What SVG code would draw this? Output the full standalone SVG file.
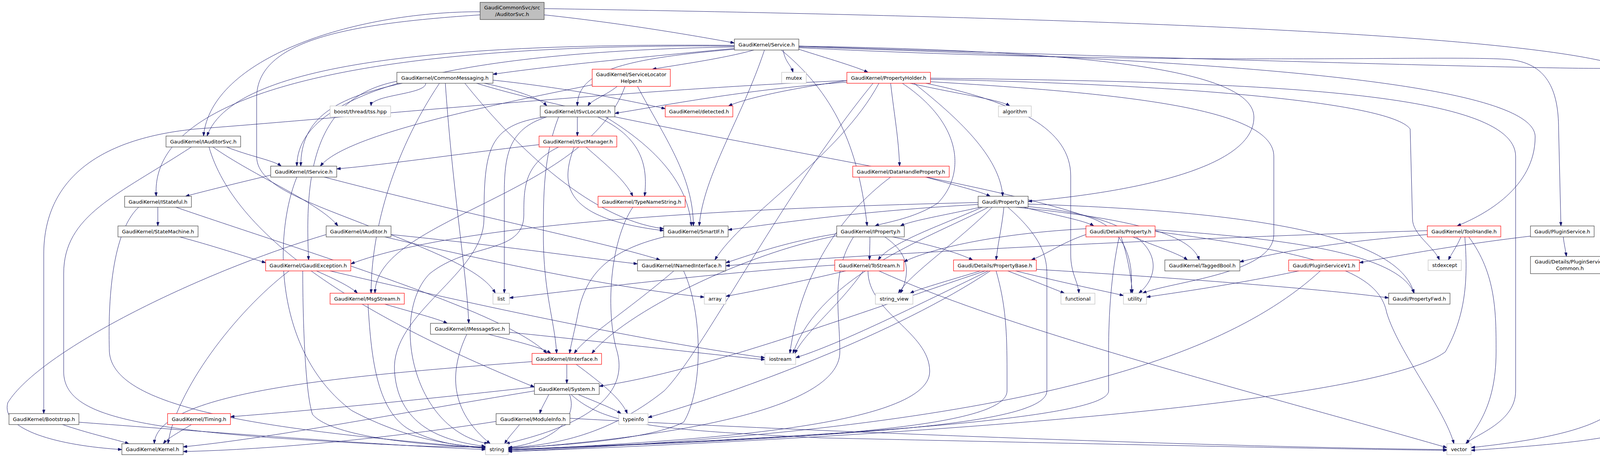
<svg xmlns="http://www.w3.org/2000/svg" width="4214" height="1169" viewBox="0 0 4214 1169">
<style>
.n rect{fill:#fff;stroke:#404040;stroke-width:1.2}
.r rect{fill:#fff;stroke:#ff0000;stroke-width:1.2}
.g rect{fill:#fff;stroke:#bfbfbf;stroke-width:1.2}
.root rect{fill:#bfbfbf;stroke:#404040;stroke-width:1.2}
text{font-family:"DejaVu Sans","Liberation Sans",sans-serif;font-size:13px;fill:#000;text-anchor:middle}
.e{fill:none;stroke:#191970;stroke-width:1;marker-end:url(#ah)}
</style>
<defs>
<marker id="ah" viewBox="0 0 10 7" refX="10" refY="3.5" markerWidth="10" markerHeight="7" markerUnits="userSpaceOnUse" orient="auto"><path d="M0,0 L10,3.5 L0,7 z" fill="#191970" stroke="#191970"/></marker>
</defs>
<rect width="4214" height="1169" fill="#fff"/>
<g id="edges">
<path class="e" d="M1229,30 C900,30 540,150 521,348"/>
<path class="e" d="M1393,38 C1600,60 1800,95 1880,110"/>
<path class="e" d="M1229,38 C900,60 657,100 657,250 L657,400 C657,480 800,520 1000,600 C1150,660 1240,700 1268,750"/>
<path class="e" d="M1393,22 C2500,40 4150,80 4205,200 L4205,1080 C4205,1120 3950,1140 3766,1152"/>
<path class="e" d="M1880,124 C1600,150 1400,170 1262,190"/>
<path class="e" d="M1930,128 C1850,150 1740,165 1670,177"/>
<path class="e" d="M2005,128 C2010,160 2025,165 2030,185"/>
<path class="e" d="M2045,126 C2120,150 2190,170 2222,185"/>
<path class="e" d="M1880,126 C1600,150 1478,180 1478,271"/>
<path class="e" d="M1880,116 C1200,110 600,150 530,348"/>
<path class="e" d="M1880,120 C1300,130 760,200 760,425"/>
<path class="e" d="M1880,118 C1000,110 380,220 400,502"/>
<path class="e" d="M1957,128 C1900,300 1800,450 1790,578"/>
<path class="e" d="M2045,118 C2800,130 3210,180 3210,300 C3210,450 2800,500 2632,515"/>
<path class="e" d="M2000,128 C2150,250 2200,400 2220,578"/>
<path class="e" d="M2045,120 C3000,150 3930,200 3930,350 C3930,480 3800,550 3730,578"/>
<path class="e" d="M2045,122 C3000,170 3700,140 3860,152 C3960,160 3990,230 3990,330 L3996,578"/>
<path class="e" d="M2045,118 C3000,150 3900,175 4100,175 C4150,180 4157,250 4157,330 L4157,1000 C4157,1100 3900,1130 3766,1145"/>
<path class="e" d="M1090,213 C1090,242 950,242 950,271"/>
<path class="e" d="M1240,213 C1320,230 1380,250 1400,271"/>
<path class="e" d="M1262,205 C1450,225 1600,255 1703,278"/>
<path class="e" d="M1030,213 C860,250 770,300 770,425"/>
<path class="e" d="M1016,208 C800,250 780,450 790,665"/>
<path class="e" d="M1125,213 C1000,400 950,600 950,750"/>
<path class="e" d="M1140,213 C1160,500 1195,700 1200,827"/>
<path class="e" d="M1190,213 C1300,350 1500,560 1699,585"/>
<path class="e" d="M1220,213 C1600,330 2500,450 2800,560 C2900,600 2900,700 2895,750"/>
<path class="e" d="M1580,221 C1550,245 1515,255 1505,271"/>
<path class="e" d="M1516,217 C1200,280 880,350 820,425"/>
<path class="e" d="M1632,221 C1700,350 1775,450 1775,578"/>
<path class="e" d="M1600,221 C1500,500 960,560 960,750"/>
<path class="e" d="M2330,213 C2450,240 2560,255 2585,271"/>
<path class="e" d="M2370,213 C2600,260 2741,330 2741,450 L2741,650 C2741,700 2760,720 2762,750"/>
<path class="e" d="M2382,203 C3000,215 3560,260 3610,330 L3616,560 C3616,600 3670,630 3685,665"/>
<path class="e" d="M2382,209 C2900,240 3261,280 3261,400 L3261,600 C3261,700 3000,720 2925,750"/>
<path class="e" d="M2382,200 C3200,210 3880,230 3880,400 L3880,1000 C3880,1080 3780,1110 3752,1135"/>
<path class="e" d="M2340,213 C2450,300 2560,400 2567,502"/>
<path class="e" d="M2280,213 C2290,300 2300,350 2303,425"/>
<path class="e" d="M2310,213 C2470,320 2470,450 2400,520 C2340,560 2260,570 2240,578"/>
<path class="e" d="M2168,210 C1900,230 1700,270 1574,290"/>
<path class="e" d="M2168,206 C2000,230 1900,255 1865,271"/>
<path class="e" d="M2168,206 C1600,230 900,300 500,330 C200,360 112,500 112,650 L112,1058"/>
<path class="e" d="M2250,213 C2150,400 1900,550 1830,665"/>
<path class="e" d="M2235,213 C2000,500 1800,900 1700,1000 C1550,1120 1400,1140 1301,1145"/>
<path class="e" d="M580,376 C640,400 700,410 720,425"/>
<path class="e" d="M545,376 C650,450 820,520 865,578"/>
<path class="e" d="M535,376 C600,600 900,800 1368,990"/>
<path class="e" d="M490,376 C300,500 163,550 163,700 L163,950 C163,1050 300,1090 700,1120 C1000,1140 1150,1145 1243,1143"/>
<path class="e" d="M1478,299 L1478,348"/>
<path class="e" d="M1530,299 C1640,350 1660,420 1650,502"/>
<path class="e" d="M1550,299 C1650,360 1760,450 1770,578"/>
<path class="e" d="M1400,299 C1300,330 1291,400 1291,500 L1291,750"/>
<path class="e" d="M1395,299 C1250,320 1239,380 1239,560 C1239,700 1000,800 1010,950 C1020,1100 1150,1130 1243,1142"/>
<path class="e" d="M1430,299 C1391,400 1391,500 1391,600 C1391,750 1420,820 1425,904"/>
<path class="e" d="M1380,370 C1200,390 1000,420 862,432"/>
<path class="e" d="M1500,376 C1550,420 1600,460 1620,502"/>
<path class="e" d="M1470,376 C1430,480 1450,560 1699,590"/>
<path class="e" d="M1430,376 C1341,420 1341,480 1341,550 C1341,650 1200,620 1100,700 C1000,800 1050,1100 1250,1135"/>
<path class="e" d="M693,448 C600,470 520,490 475,502"/>
<path class="e" d="M830,453 C1200,550 1550,620 1690,665"/>
<path class="e" d="M760,453 C700,600 700,900 900,1050 C1050,1130 1180,1140 1243,1145"/>
<path class="e" d="M2370,453 C2450,475 2510,490 2535,502"/>
<path class="e" d="M2280,453 C2150,550 2050,700 2022,904"/>
<path class="e" d="M404,530 L404,578"/>
<path class="e" d="M450,530 C800,650 1300,800 1400,904"/>
<path class="e" d="M355,530 C280,600 277,800 280,900 C290,1050 700,1100 1243,1147"/>
<path class="e" d="M1620,530 C1560,620 1550,800 1580,900 C1620,1050 1400,1110 1295,1135"/>
<path class="e" d="M2620,530 C2700,550 2780,565 2800,578"/>
<path class="e" d="M2570,530 C2565,580 2555,620 2550,665"/>
<path class="e" d="M2515,530 C2400,580 2280,620 2248,665"/>
<path class="e" d="M2510,530 C2420,550 2330,565 2305,578"/>
<path class="e" d="M2600,530 C2900,560 3050,600 3070,665"/>
<path class="e" d="M2625,528 C3000,560 2980,700 2915,750"/>
<path class="e" d="M2540,530 C2450,620 2330,700 2300,750"/>
<path class="e" d="M2580,530 C2660,600 2680,650 2680,700 L2680,1000 C2680,1100 2000,1120 1301,1150"/>
<path class="e" d="M2504,523 C2200,540 2000,570 1864,588"/>
<path class="e" d="M2530,530 C2400,600 2100,700 2030,904"/>
<path class="e" d="M2632,522 C3200,540 3580,600 3620,750"/>
<path class="e" d="M2504,518 C2000,530 1200,560 898,675"/>
<path class="e" d="M460,606 C550,630 640,660 680,672"/>
<path class="e" d="M1001,600 C1300,630 1500,660 1632,675"/>
<path class="e" d="M985,606 C1300,680 1600,740 1803,760"/>
<path class="e" d="M835,600 C500,700 100,900 20,1030 C0,1100 150,1140 312,1150"/>
<path class="e" d="M1700,606 C1560,640 1500,700 1480,800 C1470,850 1462,880 1458,904"/>
<path class="e" d="M2227,606 C2227,630 2226,645 2226,665"/>
<path class="e" d="M2265,606 C2330,650 2330,700 2305,750"/>
<path class="e" d="M2142,603 C1900,650 1600,800 1515,904"/>
<path class="e" d="M2142,598 C2000,620 1900,660 1858,672"/>
<path class="e" d="M2185,606 C2125,700 2150,800 2150,900 C2150,1050 1700,1120 1301,1148"/>
<path class="e" d="M2285,606 C2400,630 2460,650 2490,665"/>
<path class="e" d="M2780,600 C2720,620 2680,650 2640,665"/>
<path class="e" d="M2900,606 C2960,630 3020,650 3040,665"/>
<path class="e" d="M2870,606 C2885,650 2895,700 2899,750"/>
<path class="e" d="M2865,606 C2845,700 2838,800 2838,900 L2838,1000 C2838,1080 2000,1120 1301,1152"/>
<path class="e" d="M2957,592 C3400,650 3530,700 3550,800 C3580,900 3700,1050 3722,1135"/>
<path class="e" d="M2957,588 C3300,610 3580,650 3620,750"/>
<path class="e" d="M2780,585 C2500,600 2350,650 2314,670"/>
<path class="e" d="M3740,606 C3730,630 3715,650 3708,665"/>
<path class="e" d="M3760,606 C3830,700 3830,800 3830,900 C3830,1050 3770,1100 3755,1135"/>
<path class="e" d="M3654,590 C3000,610 2200,650 1858,680"/>
<path class="e" d="M3654,600 C3400,620 3250,650 3174,670"/>
<path class="e" d="M3750,606 C3757,700 3757,800 3700,900 C3500,1050 2000,1130 1301,1155"/>
<path class="e" d="M3918,604 C3700,630 3550,660 3480,672"/>
<path class="e" d="M4002,606 C4004,625 4008,640 4010,656"/>
<path class="e" d="M740,693 C600,800 450,1000 430,1135"/>
<path class="e" d="M775,693 C775,800 780,1000 800,1060 C850,1120 1100,1140 1243,1145"/>
<path class="e" d="M810,693 C860,715 900,735 915,750"/>
<path class="e" d="M845,693 C1300,800 1700,880 1958,915"/>
<path class="e" d="M1725,693 C1600,800 1500,860 1470,904"/>
<path class="e" d="M1750,693 C1800,800 1800,1000 1750,1080 C1650,1130 1400,1140 1301,1147"/>
<path class="e" d="M2137,678 C1800,700 1500,740 1304,762"/>
<path class="e" d="M2165,693 C2050,720 1930,745 1858,758"/>
<path class="e" d="M2222,693 C2222,800 2380,850 2380,950 C2380,1100 1700,1130 1301,1152"/>
<path class="e" d="M2210,693 C2150,780 2060,850 2035,904"/>
<path class="e" d="M2250,693 C2600,850 3200,1000 3704,1145"/>
<path class="e" d="M2510,693 C2420,720 2350,740 2330,750"/>
<path class="e" d="M2580,693 C2650,720 2700,740 2725,750"/>
<path class="e" d="M2600,693 C2750,730 2830,745 2876,756"/>
<path class="e" d="M2550,693 C2575,780 2578,850 2578,950 L2578,1000 C2578,1100 2000,1125 1301,1150"/>
<path class="e" d="M2530,693 C2350,780 2150,880 2037,915"/>
<path class="e" d="M2535,693 C2300,850 1900,1000 1659,1068"/>
<path class="e" d="M2522,693 C2200,800 1800,950 1534,988"/>
<path class="e" d="M2653,689 C3000,710 3400,740 3555,762"/>
<path class="e" d="M3325,693 C3150,730 3000,750 2935,760"/>
<path class="e" d="M3380,693 C3100,950 2500,1100 1301,1155"/>
<path class="e" d="M985,778 C1060,800 1120,815 1145,827"/>
<path class="e" d="M942,778 C950,900 960,1050 1050,1100 C1130,1140 1200,1142 1243,1144"/>
<path class="e" d="M1250,855 C1330,875 1390,890 1410,904"/>
<path class="e" d="M1195,855 C1150,950 1150,1050 1255,1135"/>
<path class="e" d="M1304,850 C1600,880 1800,905 1958,920"/>
<path class="e" d="M1451,932 C1451,950 1451,965 1451,981"/>
<path class="e" d="M1475,932 C1540,980 1590,1020 1606,1058"/>
<path class="e" d="M1362,925 C900,960 400,1000 395,1135"/>
<path class="e" d="M1405,1009 C1395,1030 1385,1045 1382,1058"/>
<path class="e" d="M1458,1009 C1480,1070 1420,1130 1301,1145"/>
<path class="e" d="M1462,1009 C1550,1090 1700,1100 2100,1120 C3000,1140 3500,1150 3704,1152"/>
<path class="e" d="M1480,1009 C1530,1030 1570,1045 1590,1058"/>
<path class="e" d="M1368,990 C1100,1020 800,1050 590,1066"/>
<path class="e" d="M1368,1000 C1000,1060 700,1120 469,1143"/>
<path class="e" d="M160,1086 C230,1110 300,1125 330,1135"/>
<path class="e" d="M202,1080 C600,1110 1000,1140 1243,1150"/>
<path class="e" d="M490,1086 C460,1105 430,1120 418,1135"/>
<path class="e" d="M1270,1078 C1000,1120 700,1150 469,1155"/>
<path class="e" d="M1330,1086 C1315,1105 1300,1120 1292,1135"/>
<path class="e" d="M1459,1070 C2200,1110 3200,1145 3704,1150"/>
</g>
<g id="root" class="root"><rect x="1229" y="6" width="164" height="44"/><text x="1311" y="24">GaudiCommonSvc/src</text><text x="1311" y="41">/AuditorSvc.h</text></g>
<g id="service" class="n"><rect x="1880" y="100" width="165" height="28"/><text x="1962.5" y="118.5">GaudiKernel/Service.h</text></g>
<g id="commsg" class="n"><rect x="1016" y="185" width="246" height="28"/><text x="1139" y="203.5">GaudiKernel/CommonMessaging.h</text></g>
<g id="slh" class="r"><rect x="1516" y="177" width="200" height="44"/><text x="1616" y="195">GaudiKernel/ServiceLocator</text><text x="1616" y="212">Helper.h</text></g>
<g id="mutex" class="g"><rect x="2001" y="185" width="63" height="28"/><text x="2032.5" y="203.5">mutex</text></g>
<g id="propholder" class="r"><rect x="2168" y="185" width="214" height="28"/><text x="2275" y="203.5">GaudiKernel/PropertyHolder.h</text></g>
<g id="boost" class="g"><rect x="845" y="271" width="155" height="28"/><text x="922.5" y="289.5">boost/thread/tss.hpp</text></g>
<g id="isvcloc" class="n"><rect x="1383" y="271" width="191" height="28"/><text x="1478.5" y="289.5">GaudiKernel/ISvcLocator.h</text></g>
<g id="detected" class="r"><rect x="1703" y="271" width="173" height="28"/><text x="1789.5" y="289.5">GaudiKernel/detected.h</text></g>
<g id="algorithm" class="g"><rect x="2556" y="271" width="84" height="28"/><text x="2598" y="289.5">algorithm</text></g>
<g id="iauditorsvc" class="n"><rect x="425" y="348" width="191" height="28"/><text x="520.5" y="366.5">GaudiKernel/IAuditorSvc.h</text></g>
<g id="isvcmgr" class="r"><rect x="1380" y="348" width="199" height="28"/><text x="1479.5" y="366.5">GaudiKernel/ISvcManager.h</text></g>
<g id="iservice" class="n"><rect x="693" y="425" width="169" height="28"/><text x="777.5" y="443.5">GaudiKernel/IService.h</text></g>
<g id="dhprop" class="r"><rect x="2183" y="425" width="247" height="28"/><text x="2306.5" y="443.5">GaudiKernel/DataHandleProperty.h</text></g>
<g id="istateful" class="n"><rect x="319" y="502" width="171" height="28"/><text x="404.5" y="520.5">GaudiKernel/IStateful.h</text></g>
<g id="typename" class="r"><rect x="1531" y="502" width="223" height="28"/><text x="1642.5" y="520.5">GaudiKernel/TypeNameString.h</text></g>
<g id="gproperty" class="n"><rect x="2504" y="502" width="128" height="28"/><text x="2568" y="520.5">Gaudi/Property.h</text></g>
<g id="statemachine" class="n"><rect x="302" y="578" width="205" height="28"/><text x="404.5" y="596.5">GaudiKernel/StateMachine.h</text></g>
<g id="iauditor" class="n"><rect x="835" y="578" width="166" height="28"/><text x="918" y="596.5">GaudiKernel/IAuditor.h</text></g>
<g id="smartif" class="n"><rect x="1699" y="578" width="165" height="28"/><text x="1781.5" y="596.5">GaudiKernel/SmartIF.h</text></g>
<g id="iproperty" class="n"><rect x="2142" y="578" width="173" height="28"/><text x="2228.5" y="596.5">GaudiKernel/IProperty.h</text></g>
<g id="dproperty" class="r"><rect x="2780" y="578" width="177" height="28"/><text x="2868.5" y="596.5">Gaudi/Details/Property.h</text></g>
<g id="toolhandle" class="r"><rect x="3654" y="578" width="188" height="28"/><text x="3748" y="596.5">GaudiKernel/ToolHandle.h</text></g>
<g id="pluginsvc" class="n"><rect x="3918" y="578" width="163" height="28"/><text x="3999.5" y="596.5">Gaudi/PluginService.h</text></g>
<g id="gexception" class="r"><rect x="680" y="665" width="218" height="28"/><text x="789" y="683.5">GaudiKernel/GaudiException.h</text></g>
<g id="inamed" class="n"><rect x="1632" y="665" width="226" height="28"/><text x="1745" y="683.5">GaudiKernel/INamedInterface.h</text></g>
<g id="tostream" class="r"><rect x="2137" y="665" width="177" height="28"/><text x="2225.5" y="683.5">GaudiKernel/ToStream.h</text></g>
<g id="propbase" class="r"><rect x="2441" y="665" width="212" height="28"/><text x="2547" y="683.5">Gaudi/Details/PropertyBase.h</text></g>
<g id="taggedbool" class="n"><rect x="2982" y="665" width="192" height="28"/><text x="3078" y="683.5">GaudiKernel/TaggedBool.h</text></g>
<g id="pluginv1" class="r"><rect x="3299" y="665" width="181" height="28"/><text x="3389.5" y="683.5">Gaudi/PluginServiceV1.h</text></g>
<g id="stdexcept" class="g"><rect x="3656" y="665" width="85" height="27"/><text x="3698.5" y="683">stdexcept</text></g>
<g id="plugincommon" class="n"><rect x="3918" y="656" width="202" height="44"/><text x="4019" y="674">Gaudi/Details/PluginService</text><text x="4019" y="691">Common.h</text></g>
<g id="msgstream" class="r"><rect x="845" y="750" width="190" height="28"/><text x="940" y="768.5">GaudiKernel/MsgStream.h</text></g>
<g id="list" class="g"><rect x="1262" y="750" width="42" height="28"/><text x="1283" y="768.5">list</text></g>
<g id="array" class="g"><rect x="1803" y="750" width="55" height="28"/><text x="1830.5" y="768.5">array</text></g>
<g id="string_view" class="g"><rect x="2241" y="750" width="96" height="28"/><text x="2289" y="768.5">string_view</text></g>
<g id="functional" class="g"><rect x="2716" y="750" width="87" height="28"/><text x="2759.5" y="768.5">functional</text></g>
<g id="utility" class="g"><rect x="2876" y="750" width="59" height="28"/><text x="2905.5" y="768.5">utility</text></g>
<g id="propfwd" class="n"><rect x="3555" y="750" width="157" height="28"/><text x="3633.5" y="768.5">Gaudi/PropertyFwd.h</text></g>
<g id="imessagesvc" class="n"><rect x="1102" y="827" width="202" height="28"/><text x="1203" y="845.5">GaudiKernel/IMessageSvc.h</text></g>
<g id="iinterface" class="r"><rect x="1362" y="904" width="178" height="28"/><text x="1451" y="922.5">GaudiKernel/IInterface.h</text></g>
<g id="iostream" class="g"><rect x="1958" y="904" width="79" height="28"/><text x="1997.5" y="922.5">iostream</text></g>
<g id="system" class="n"><rect x="1368" y="981" width="166" height="28"/><text x="1451" y="999.5">GaudiKernel/System.h</text></g>
<g id="bootstrap" class="n"><rect x="23" y="1058" width="179" height="28"/><text x="112.5" y="1076.5">GaudiKernel/Bootstrap.h</text></g>
<g id="timing" class="r"><rect x="429" y="1058" width="161" height="28"/><text x="509.5" y="1076.5">GaudiKernel/Timing.h</text></g>
<g id="moduleinfo" class="n"><rect x="1270" y="1058" width="189" height="28"/><text x="1364.5" y="1076.5">GaudiKernel/ModuleInfo.h</text></g>
<g id="typeinfo" class="g"><rect x="1584" y="1058" width="75" height="28"/><text x="1621.5" y="1076.5">typeinfo</text></g>
<g id="kernel" class="n"><rect x="312" y="1135" width="157" height="28"/><text x="390.5" y="1153.5">GaudiKernel/Kernel.h</text></g>
<g id="string" class="g"><rect x="1243" y="1135" width="58" height="28"/><text x="1272" y="1153.5">string</text></g>
<g id="vector" class="g"><rect x="3704" y="1135" width="62" height="28"/><text x="3735" y="1153.5">vector</text></g>
</svg>
